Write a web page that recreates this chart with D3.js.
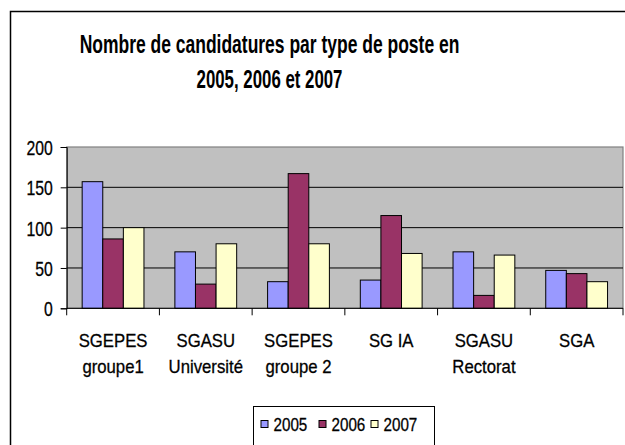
<!DOCTYPE html>
<html>
<head>
<meta charset="utf-8">
<script src="https://cdn.jsdelivr.net/npm/d3@7"></script>
<style>
  body { margin: 0; background: #fff; }
  text { font-family: "Liberation Sans", Arial, sans-serif; fill: #000; }
  .reg { stroke: #000; stroke-width: 0.3px; }
</style>
</head>
<body>
<div id="chart"></div>
<script>
// data
const categories = ["SGEPES\ngroupe1", "SGASU\nUniversité", "SGEPES\ngroupe 2", "SG IA", "SGASU\nRectorat", "SGA"];
const years = ["2005", "2006", "2007"];
const values2005 = [157, 70, 33, 35, 70, 47];
const values2006 = [86, 30, 167, 115, 16, 43];
const values2007 = [100, 80, 80, 68, 66, 33];
const yTicks = [0, 50, 100, 150, 200];
const titleLines = ["Nombre de candidatures par type de poste en", "2005, 2006 et 2007"];

const series = [values2005, values2006, values2007];
const colors = ["#9999ff", "#993366", "#ffffcc"];

const width = 625, height = 445;
const plot = { left: 66.7, right: 623, top: 147, bottom: 308.3 };
const titleWidths = [380, 146];

const svg = d3.select("#chart").append("svg")
  .attr("width", width)
  .attr("height", height);

// squeeze text horizontally (the source picture is narrowed)
function squeeze(sel, f) {
  sel.each(function () {
    const w = this.getComputedTextLength();
    d3.select(this).attr("textLength", w * f).attr("lengthAdjust", "spacingAndGlyphs");
  });
}

// outer frame
svg.append("rect")
  .attr("x", 10.5).attr("y", 11.5)
  .attr("width", 640).attr("height", 460)
  .attr("fill", "#fff")
  .attr("stroke", "#000")
  .attr("stroke-width", 1.5);

// title, narrowed with a transform so each line fits its width
svg.selectAll("text.title")
  .data(titleLines)
  .join("text")
  .attr("class", "title")
  .attr("text-anchor", "middle")
  .style("font-size", "26px")
  .style("font-weight", "bold")
  .text(d => d)
  .each(function (d, i) {
    const f = titleWidths[i] / this.getComputedTextLength();
    d3.select(this).attr("transform", `translate(269.5,${53 + i * 35}) scale(${f},1)`);
  });

// scales
const x0 = d3.scaleBand()
  .domain(categories)
  .range([plot.left, plot.right])
  .paddingInner(0).paddingOuter(0);

const inner = (x0.bandwidth() - 3 * 20.6) / 2;
const x1 = d3.scaleBand()
  .domain(years)
  .range([inner, x0.bandwidth() - inner])
  .padding(0);

const y = d3.scaleLinear()
  .domain([0, 200])
  .range([plot.bottom, plot.top]);

// plot background
svg.append("rect")
  .attr("x", plot.left).attr("y", plot.top)
  .attr("width", plot.right - plot.left)
  .attr("height", plot.bottom - plot.top)
  .attr("fill", "#c0c0c0")
  .attr("stroke", "#808080")
  .attr("stroke-width", 1.2);

// gridlines
svg.selectAll("line.grid")
  .data(yTicks.filter(d => d > 0 && d < 200))
  .join("line")
  .attr("class", "grid")
  .attr("x1", plot.left).attr("x2", plot.right)
  .attr("y1", d => y(d)).attr("y2", d => y(d))
  .attr("stroke", "#000")
  .attr("stroke-width", 1);

// bars
const groups = svg.selectAll("g.group")
  .data(categories)
  .join("g")
  .attr("class", "group")
  .attr("transform", d => `translate(${x0(d)},0)`);

groups.selectAll("rect")
  .data((d, i) => years.map((yr, j) => ({ yr, v: series[j][i], c: colors[j] })))
  .join("rect")
  .attr("x", d => x1(d.yr))
  .attr("y", d => y(d.v))
  .attr("width", x1.bandwidth())
  .attr("height", d => y(0) - y(d.v))
  .attr("fill", d => d.c)
  .attr("stroke", "#000")
  .attr("stroke-width", 1);

// y axis
const yAxis = svg.append("g")
  .attr("transform", `translate(${plot.left},0)`)
  .call(d3.axisLeft(y).tickValues(yTicks).tickSize(6).tickPadding(8));
yAxis.select(".domain").attr("stroke", "#000");
yAxis.selectAll(".tick line").attr("stroke", "#000");
yAxis.selectAll("text")
  .attr("class", "reg")
  .style("font-size", "21px")
  .attr("dy", "0.35em")
  .call(squeeze, 0.75);

// x axis: ticks at group boundaries
const xAxis = svg.append("g")
  .attr("transform", `translate(0,${plot.bottom})`);
xAxis.append("line")
  .attr("x1", plot.left).attr("x2", plot.right)
  .attr("stroke", "#000");
xAxis.selectAll("line.tick")
  .data(categories.map(c => x0(c)).concat([plot.right]))
  .join("line")
  .attr("class", "tick")
  .attr("x1", d => d).attr("x2", d => d)
  .attr("y1", 0).attr("y2", 7)
  .attr("stroke", "#000");

const labels = xAxis.selectAll("text")
  .data(categories)
  .join("text")
  .attr("class", "reg")
  .attr("text-anchor", "middle")
  .attr("transform", d => `translate(${x0(d) + x0.bandwidth() / 2},0)`)
  .style("font-size", "19px");
labels.selectAll("tspan")
  .data(d => d.split("\n"))
  .join("tspan")
  .attr("x", 0)
  .attr("y", (d, i) => 38.5 + i * 26.5)
  .text(d => d)
  .call(squeeze, 0.88);

// legend
const legend = svg.append("g");
legend.append("rect")
  .attr("x", 253.5).attr("y", 406.5)
  .attr("width", 181).attr("height", 60)
  .attr("fill", "#fff")
  .attr("stroke", "#000");
const legX = [261, 319, 371];
const items = legend.selectAll("g.item")
  .data(years)
  .join("g")
  .attr("class", "item")
  .attr("transform", (d, i) => `translate(${legX[i]},0)`);
items.append("rect")
  .attr("x", 0).attr("y", 420.5)
  .attr("width", 7).attr("height", 7)
  .attr("fill", (d, i) => colors[i])
  .attr("stroke", "#000");
items.append("text")
  .attr("class", "reg")
  .attr("x", 12.5)
  .attr("y", 430.5)
  .style("font-size", "19px")
  .text(d => d)
  .call(squeeze, 0.8);
</script>
</body>
</html>
